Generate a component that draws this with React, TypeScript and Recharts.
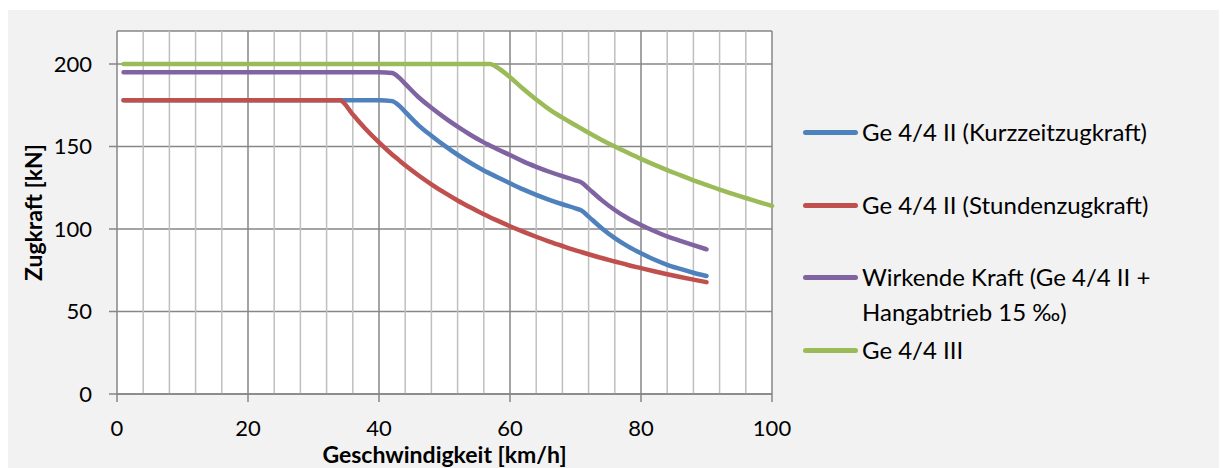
import { LineChart, Line, XAxis, YAxis, CartesianGrid, ReferenceLine } from 'recharts';

// speed in km/h
const speeds = [1, 10, 20, 30, 34, 36, 38, 40, 42, 43, 44, 46, 48, 50, 52, 54, 56, 57, 58, 60, 62, 64, 66, 68, 70, 71, 72, 74, 76, 78, 80, 82, 84, 86, 88, 90, 92, 94, 96, 98, 100];

// tractive effort in kN
const kurzzeit = [178, 178, 178, 178, 178, 178, 178, 178, 177.5, 175, 171, 163, 156.5, 150.5, 145, 140, 135.5, 133.5, 131.5, 127.7, 124, 120.7, 117.7, 115, 112.5, 111, 107.5, 100.5, 94.5, 89.5, 85.3, 81.5, 78.3, 75.8, 73.5, 71.5, null, null, null, null, null];
const stunden = [178, 178, 178, 178, 178, 169.4, 160.5, 152.5, 145.2, 141.9, 138.6, 132.6, 127.1, 122, 117.3, 113, 108.9, 107, 105.2, 101.7, 98.4, 95.3, 92.4, 89.7, 87.1, 85.9, 84.7, 82.4, 80.3, 78.2, 76.3, 74.4, 72.6, 70.9, 69.3, 67.8, null, null, null, null, null];
const wirkende = [195, 195, 195, 195, 195, 195, 195, 195, 194.5, 192, 188, 180, 173.5, 167.5, 162, 157, 152.5, 150.5, 148.5, 144.8, 141, 137.7, 134.7, 132, 129.5, 128, 124.5, 117.5, 111.5, 106.5, 102.4, 98.8, 95.5, 92.8, 90.2, 87.7, null, null, null, null, null];
const ge44iii = [200, 200, 200, 200, 200, 200, 200, 200, 200, 200, 200, 200, 200, 200, 200, 200, 200, 200, 198, 192, 185, 178.5, 172.5, 167.5, 162.9, 160.6, 158.3, 154, 150, 146.2, 142.5, 139, 135.7, 132.6, 129.5, 126.7, 123.9, 121.3, 118.8, 116.3, 114];

const xTicks = [0, 20, 40, 60, 80, 100];
const yTicks = [0, 50, 100, 150, 200];
const minorX = [4, 8, 12, 16, 24, 28, 32, 36, 44, 48, 52, 56, 64, 68, 72, 76, 84, 88, 92, 96];

const series = [
  { key: 'kurz', label: ['Ge 4/4 II (Kurzzeitzugkraft)'], color: '#4F81BD' },
  { key: 'stunden', label: ['Ge 4/4 II (Stundenzugkraft)'], color: '#C0504D' },
  { key: 'wirkende', label: ['Wirkende Kraft (Ge 4/4 II +', 'Hangabtrieb 15 ‰)'], color: '#8064A2' },
  { key: 'iii', label: ['Ge 4/4 III'], color: '#9BBB59' },
];

const data = speeds.map((v, i) => ({
  v,
  kurz: kurzzeit[i],
  stunden: stunden[i],
  wirkende: wirkende[i],
  iii: ge44iii[i],
}));

const FONT = 'Lato, "Open Sans", sans-serif';
const GRID = '#868686';

// legend rows, top of each row inside the grey panel
const legendTops = [107, 180, 252, 325];

function LegendBox() {
  return (
    <div style={{ position: 'absolute', left: 795, top: 0, fontFamily: FONT, fontSize: 24, color: '#000' }}>
      {series.map((s, i) => (
        <div key={s.key} style={{ position: 'absolute', left: 0, top: legendTops[i], whiteSpace: 'nowrap' }}>
          <div style={{ position: 'absolute', left: 0, top: 12.5, width: 55, height: 5, borderRadius: 3, background: s.color }} />
          {s.label.map((t, j) => (
            <div key={j} style={{ position: 'absolute', left: 59, top: j * 35, lineHeight: '30px' }}>{t}</div>
          ))}
        </div>
      ))}
    </div>
  );
}

export default function App() {
  return (
    <div style={{ position: 'relative', marginTop: 2, width: 1219, height: 458, background: '#f2f2f2' }}>
      <LineChart width={1219} height={458} data={data} margin={{ top: 21, right: 455, bottom: 0, left: 0 }}>
        <CartesianGrid vertical={false} stroke={GRID} strokeWidth={1.5} fill="#ffffff" />
        {minorX.map((x) => (
          <ReferenceLine key={'m' + x} x={x} stroke="#bfbfbf" strokeWidth={1.5} />
        ))}
        {xTicks.slice(1).map((x) => (
          <ReferenceLine key={'M' + x} x={x} stroke={GRID} strokeWidth={1.5} />
        ))}
        <XAxis
          dataKey="v"
          type="number"
          domain={[0, 100]}
          ticks={xTicks}
          height={74}
          stroke={GRID}
          strokeWidth={1.5}
          tickSize={8}
          tickMargin={18}
          tick={{ fill: '#000', fontSize: 22, fontFamily: FONT }}
          label={{ value: 'Geschwindigkeit [km/h]', position: 'insideBottom', offset: 5, fill: '#000', fontSize: 23, fontWeight: 700, fontFamily: FONT }}
        />
        <YAxis
          type="number"
          domain={[0, 220]}
          ticks={yTicks}
          width={109}
          stroke={GRID}
          strokeWidth={1.5}
          tickSize={8}
          tickMargin={17}
          tick={{ fill: '#000', fontSize: 22, fontFamily: FONT }}
          label={{ value: 'Zugkraft [kN]', angle: -90, position: 'insideLeft', offset: 26, fill: '#000', fontSize: 23, fontWeight: 700, fontFamily: FONT, style: { textAnchor: 'middle' } }}
        />
        {series.map((s) => (
          <Line
            key={s.key}
            type="monotone"
            dataKey={s.key}
            stroke={s.color}
            strokeWidth={4.5}
            strokeLinecap="round"
            dot={false}
            activeDot={false}
            connectNulls={false}
            isAnimationActive={false}
          />
        ))}
      </LineChart>
      <LegendBox />
    </div>
  );
}
